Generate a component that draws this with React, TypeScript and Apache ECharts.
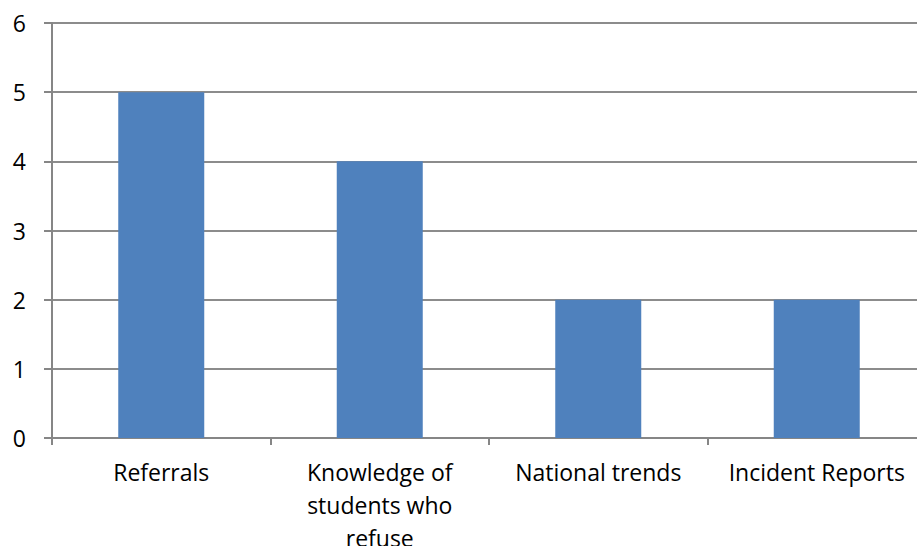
import React, { useEffect, useRef } from "react";
import * as echarts from "echarts";

const categories = ["Referrals", "Knowledge of\nstudents who\nrefuse", "National trends", "Incident Reports"];
const values = [5, 4, 2, 2];
const yMin = 0;
const yMax = 6;
const yStep = 1;

export default function App() {
  const ref = useRef<HTMLDivElement>(null);

  useEffect(() => {
    if (!ref.current) return;
    const chart = echarts.init(ref.current, null, { renderer: "svg" });
    const font = "'Open Sans', sans-serif";
    chart.setOption({
      animation: false,
      grid: {
        left: 52,
        top: 23,
        width: 874,
        height: 415,
        containLabel: false,
        outerBoundsMode: "none",
      },
      xAxis: {
        type: "category",
        data: categories,
        boundaryGap: true,
        axisLine: { show: true, lineStyle: { color: "#868686", width: 2 } },
        axisTick: { show: true, length: 7, alignWithLabel: false, lineStyle: { color: "#868686", width: 2 } },
        axisLabel: {
          interval: 0,
          color: "#000",
          fontFamily: font,
          fontSize: 23,
          lineHeight: 33,
          margin: 17,
        },
        splitLine: { show: false },
      },
      yAxis: {
        type: "value",
        min: yMin,
        max: yMax,
        interval: yStep,
        axisLine: { show: true, lineStyle: { color: "#868686", width: 2 } },
        axisTick: { show: true, length: 8, inside: false, lineStyle: { color: "#868686", width: 2 } },
        axisLabel: { color: "#000", fontFamily: font, fontSize: 23, margin: 26 },
        splitLine: { show: true, lineStyle: { color: "#8c8c8c", width: 2 } },
      },
      series: [
        {
          type: "bar",
          data: values,
          barWidth: 86,
          itemStyle: { color: "#4F81BD" },
        },
      ],
    });
    return () => chart.dispose();
  }, []);

  return <div ref={ref} style={{ width: 917, height: 546, position: "absolute", left: 0, top: 0 }} />;
}
